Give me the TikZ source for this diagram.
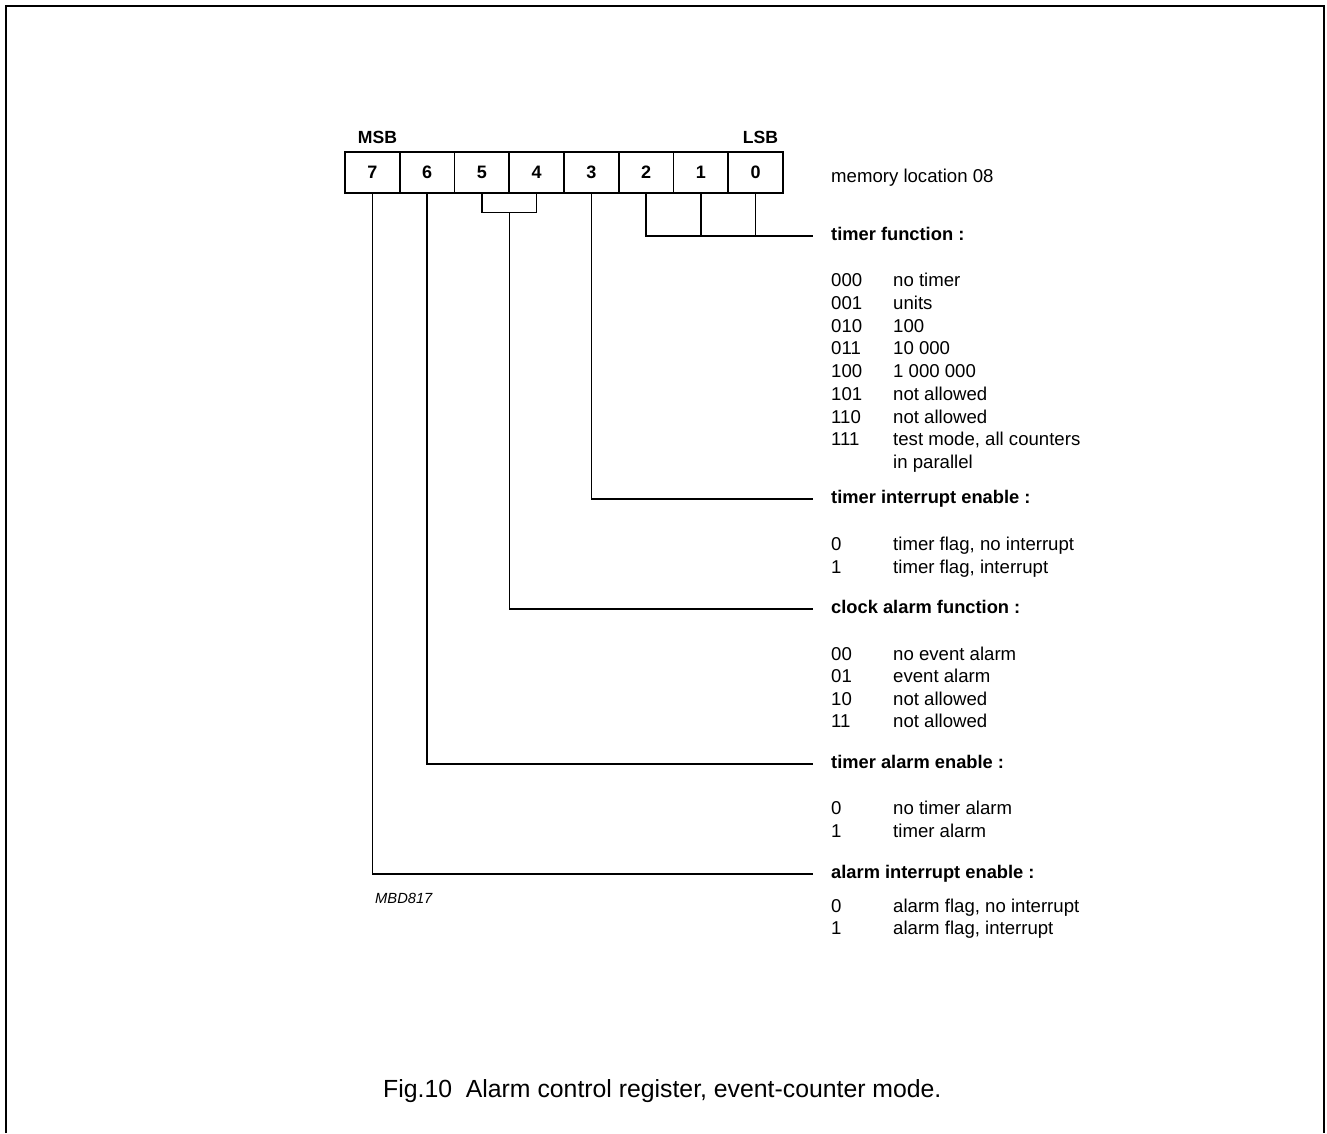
\documentclass[tikz,border=0pt]{standalone}
\usepackage{fontspec}
\setmainfont{Liberation Sans}
\usetikzlibrary{calc}
\begin{document}
\begin{tikzpicture}[x=1pt,y=-1pt,
  cell/.style={draw,line width=1.5pt,minimum width=54.75pt,minimum height=41pt,inner sep=0pt,
    font=\fontsize{18}{21}\selectfont\bfseries},
  txt/.style={anchor=base west,inner sep=0pt,font=\fontsize{18.6}{22}\selectfont},
  hdr/.style={anchor=base west,inner sep=0pt,font=\fontsize{18.3}{22}\selectfont\bfseries},
  conn/.style={line width=1.3pt,line cap=rect},
  frame/.style={line width=2pt}]
\useasboundingbox (0,0) rectangle (1327,1133);
% outer frame (open at the bottom)
\draw[frame] (6,1133) -- (6,6) -- (1324,6) -- (1324,1133);

% register cells
\node[cell] (b7) at (372.4,172.5) {7};
\node[cell] (b6) at (427.1,172.5) {6};
\node[cell] (b5) at (481.9,172.5) {5};
\node[cell] (b4) at (536.6,172.5) {4};
\node[cell] (b3) at (591.4,172.5) {3};
\node[cell] (b2) at (646.1,172.5) {2};
\node[cell] (b1) at (700.9,172.5) {1};
\node[cell] (b0) at (755.6,172.5) {0};

\node[anchor=base,inner sep=0pt,font=\fontsize{17.6}{21}\selectfont\bfseries] (msb) at (377.5,143) {MSB};
\node[anchor=base,inner sep=0pt,font=\fontsize{17.6}{21}\selectfont\bfseries] (lsb) at (760.5,143) {LSB};

\node[txt] (mem) at (831,182) {memory location 08};

% timer function
\node[hdr] (h0) at (831,240) {timer function :};
\foreach \v/\d/\y in {000/no timer/286.5, 001/units/309.25, 010/100/332, 011/10 000/354.75,
  100/1 000 000/377.5, 101/not allowed/400.25, 110/not allowed/423, 111/{test mode, all counters}/445.75}{
  \node[txt] (tf\v) at (831,\y) {\v};
  \node[txt] (tfd\v) at (893,\y) {\d};
}
\node[txt] (tfpar) at (893,468.5) {in parallel};

% timer interrupt enable
\node[hdr] (h3) at (831,503) {timer interrupt enable :};
\node[txt] (ti0) at (831,550) {0};
\node[txt] (tid0) at (893,550) {timer flag, no interrupt};
\node[txt] (ti1) at (831,573) {1};
\node[txt] (tid1) at (893,573) {timer flag, interrupt};

% clock alarm function
\node[hdr] (h54) at (831,613) {clock alarm function :};
\node[txt] (ca00) at (831,660) {00};
\node[txt] (cad00) at (893,660) {no event alarm};
\node[txt] (ca01) at (831,682.5) {01};
\node[txt] (cad01) at (893,682.5) {event alarm};
\node[txt] (ca10) at (831,705) {10};
\node[txt] (cad10) at (893,705) {not allowed};
\node[txt] (ca11) at (831,727.5) {11};
\node[txt] (cad11) at (893,727.5) {not allowed};

% timer alarm enable
\node[hdr] (h6) at (831,768) {timer alarm enable :};
\node[txt] (ta0) at (831,814) {0};
\node[txt] (tad0) at (893,814) {no timer alarm};
\node[txt] (ta1) at (831,837) {1};
\node[txt] (tad1) at (893,837) {timer alarm};

% alarm interrupt enable
\node[hdr] (h7) at (831,878) {alarm interrupt enable :};
\node[txt] (ai0) at (831,912) {0};
\node[txt] (aid0) at (893,912) {alarm flag, no interrupt};
\node[txt] (ai1) at (831,934) {1};
\node[txt] (aid1) at (893,934) {alarm flag, interrupt};

% figure code and caption
\node[anchor=base west,inner sep=0pt,font=\fontsize{14.7}{17}\selectfont\itshape] (code) at (375,903) {MBD817};
\node[anchor=base west,inner sep=0pt,font=\fontsize{24.8}{29}\selectfont] (cap) at (383,1097) {Fig.10\ \ Alarm control register, event-counter mode.};

% connector end points
\coordinate (e0) at (812,236);
\coordinate (e3) at (812,499);
\coordinate (e54) at (812,609);
\coordinate (e6) at (812,764);
\coordinate (e7) at (812,874);

% connectors
\draw[conn] (b2.south) |- (e0);
\draw[conn] (b1.south) -- (b1.south |- e0);
\draw[conn] (b0.south) -- (b0.south |- e0);
\draw[conn] (b3.south) |- (e3);
\draw[conn] (b5.south) -- ++(0,19) coordinate (k5) -| (b4.south);
\coordinate (k54) at ($(k5)+(27.4,0)$);
\draw[conn] (k54) |- (e54);
\draw[conn] (b6.south) |- (e6);
\draw[conn] (b7.south) |- (e7);
\end{tikzpicture}
\end{document}
